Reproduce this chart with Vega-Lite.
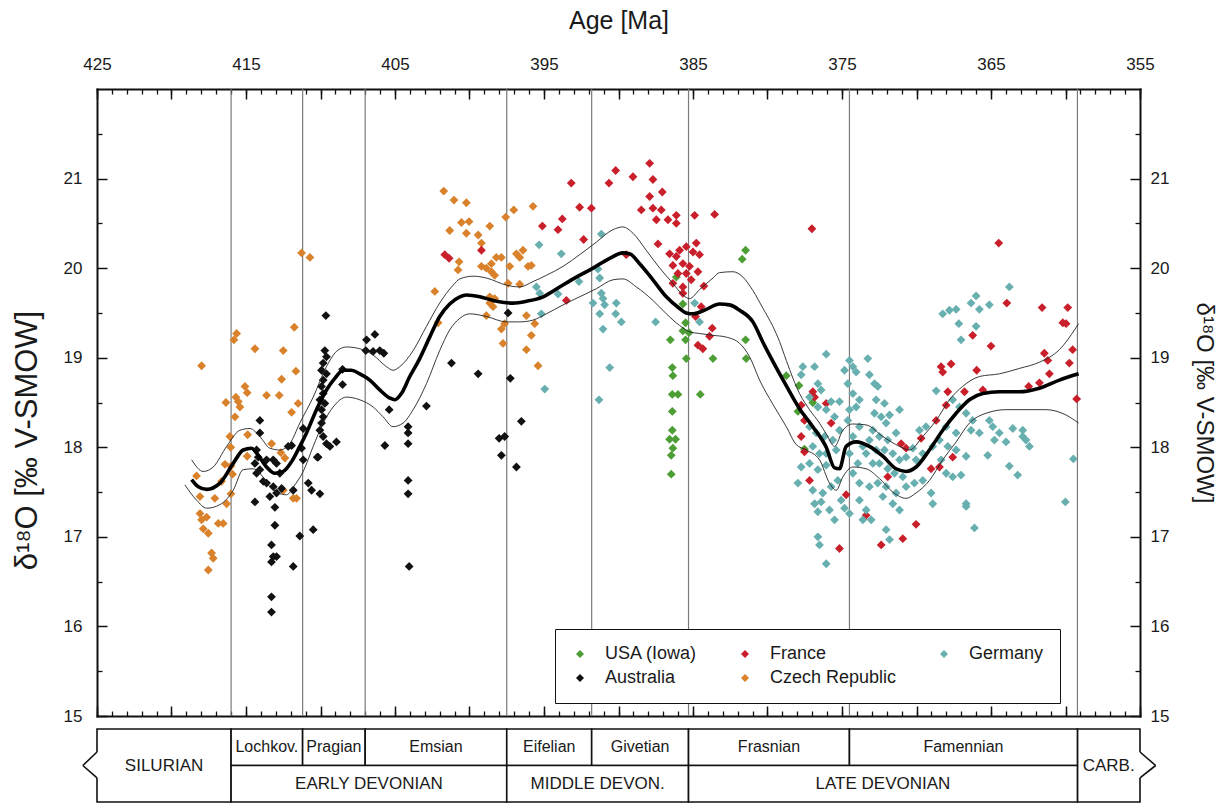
{
  "$schema": "https://vega.github.io/schema/vega-lite/v6.json",
  "width": 1043,
  "height": 627,
  "autosize": {"type": "none"},
  "padding": {"left": 97, "top": 89, "right": 88, "bottom": 87},
  "background": "white",
  "config": {
    "font": "Liberation Sans",
    "view": {"stroke": null},
    "axis": {"grid": false, "labelColor": "#1a1a1a", "titleColor": "#1a1a1a", "tickColor": "#111", "domainColor": "#111", "labelFontSize": 17, "titleFontSize": 24, "titleFontWeight": "normal", "labelOverlap": false, "labelFlush": false}
  },
  "datasets": {
    "boundaries": [{"age": 416}, {"age": 411.2}, {"age": 407}, {"age": 397.5}, {"age": 391.8}, {"age": 385.3}, {"age": 374.5}, {"age": 359.2}],
    "units": [
      {"name": "SILURIAN", "start": 425, "end": 416, "rank": "period"},
      {"name": "Lochkov.", "start": 416, "end": 411.2, "rank": "stage"},
      {"name": "Pragian", "start": 411.2, "end": 407, "rank": "stage"},
      {"name": "Emsian", "start": 407, "end": 397.5, "rank": "stage"},
      {"name": "Eifelian", "start": 397.5, "end": 391.8, "rank": "stage"},
      {"name": "Givetian", "start": 391.8, "end": 385.3, "rank": "stage"},
      {"name": "Frasnian", "start": 385.3, "end": 374.5, "rank": "stage"},
      {"name": "Famennian", "start": 374.5, "end": 359.2, "rank": "stage"},
      {"name": "EARLY DEVONIAN", "start": 416, "end": 397.5, "rank": "series"},
      {"name": "MIDDLE DEVON.", "start": 397.5, "end": 385.3, "rank": "series"},
      {"name": "LATE DEVONIAN", "start": 385.3, "end": 359.2, "rank": "series"},
      {"name": "CARB.", "start": 359.2, "end": 355, "rank": "period"}
    ],
    "breaks": [
      {"edge": 425, "tip": 425.95},
      {"edge": 355, "tip": 353.95}
    ],
    "smooth": [
      {"age": 418.65, "d18O": 17.64, "band": "mean"}, {"age": 418.2, "d18O": 17.56, "band": "mean"}, {"age": 417.64, "d18O": 17.53, "band": "mean"}, {"age": 416.75, "d18O": 17.6, "band": "mean"}, {"age": 415.86, "d18O": 17.82, "band": "mean"}, {"age": 415.19, "d18O": 17.97, "band": "mean"}, {"age": 414.63, "d18O": 17.99, "band": "mean"}, {"age": 414.18, "d18O": 17.91, "band": "mean"}, {"age": 413.62, "d18O": 17.78, "band": "mean"}, {"age": 413.06, "d18O": 17.71, "band": "mean"}, {"age": 412.5, "d18O": 17.73, "band": "mean"}, {"age": 411.94, "d18O": 17.84, "band": "mean"}, {"age": 411.39, "d18O": 18.01, "band": "mean"}, {"age": 410.94, "d18O": 18.16, "band": "mean"}, {"age": 410.27, "d18O": 18.42, "band": "mean"}, {"age": 409.6, "d18O": 18.64, "band": "mean"}, {"age": 409.04, "d18O": 18.77, "band": "mean"}, {"age": 408.48, "d18O": 18.86, "band": "mean"}, {"age": 407.92, "d18O": 18.86, "band": "mean"}, {"age": 407.36, "d18O": 18.82, "band": "mean"}, {"age": 406.69, "d18O": 18.75, "band": "mean"}, {"age": 406.02, "d18O": 18.64, "band": "mean"}, {"age": 405.35, "d18O": 18.55, "band": "mean"}, {"age": 405.01, "d18O": 18.53, "band": "mean"}, {"age": 404.57, "d18O": 18.6, "band": "mean"}, {"age": 404.01, "d18O": 18.79, "band": "mean"}, {"age": 403.34, "d18O": 18.99, "band": "mean"}, {"age": 402.67, "d18O": 19.23, "band": "mean"}, {"age": 402.0, "d18O": 19.46, "band": "mean"}, {"age": 401.33, "d18O": 19.6, "band": "mean"}, {"age": 400.65, "d18O": 19.68, "band": "mean"}, {"age": 400.21, "d18O": 19.7, "band": "mean"}, {"age": 399.31, "d18O": 19.68, "band": "mean"}, {"age": 398.42, "d18O": 19.64, "band": "mean"}, {"age": 397.08, "d18O": 19.61, "band": "mean"}, {"age": 396.18, "d18O": 19.63, "band": "mean"}, {"age": 395.06, "d18O": 19.68, "band": "mean"}, {"age": 393.95, "d18O": 19.79, "band": "mean"}, {"age": 392.83, "d18O": 19.9, "band": "mean"}, {"age": 391.71, "d18O": 20.0, "band": "mean"}, {"age": 390.59, "d18O": 20.11, "band": "mean"}, {"age": 389.7, "d18O": 20.17, "band": "mean"}, {"age": 389.25, "d18O": 20.16, "band": "mean"}, {"age": 388.58, "d18O": 20.05, "band": "mean"}, {"age": 387.69, "d18O": 19.87, "band": "mean"}, {"age": 386.79, "d18O": 19.68, "band": "mean"}, {"age": 385.9, "d18O": 19.55, "band": "mean"}, {"age": 385.45, "d18O": 19.5, "band": "mean"}, {"age": 385.0, "d18O": 19.49, "band": "mean"}, {"age": 384.11, "d18O": 19.54, "band": "mean"}, {"age": 383.22, "d18O": 19.6, "band": "mean"}, {"age": 382.55, "d18O": 19.59, "band": "mean"}, {"age": 381.87, "d18O": 19.53, "band": "mean"}, {"age": 380.98, "d18O": 19.4, "band": "mean"}, {"age": 380.3, "d18O": 19.17, "band": "mean"}, {"age": 379.64, "d18O": 18.96, "band": "mean"}, {"age": 378.75, "d18O": 18.69, "band": "mean"}, {"age": 377.85, "d18O": 18.43, "band": "mean"}, {"age": 376.96, "d18O": 18.23, "band": "mean"}, {"age": 376.06, "d18O": 18.0, "band": "mean"}, {"age": 375.5, "d18O": 17.77, "band": "mean"}, {"age": 375.17, "d18O": 17.76, "band": "mean"}, {"age": 374.72, "d18O": 18.01, "band": "mean"}, {"age": 374.05, "d18O": 18.06, "band": "mean"}, {"age": 373.16, "d18O": 18.01, "band": "mean"}, {"age": 372.26, "d18O": 17.9, "band": "mean"}, {"age": 371.37, "d18O": 17.76, "band": "mean"}, {"age": 370.7, "d18O": 17.73, "band": "mean"}, {"age": 370.03, "d18O": 17.78, "band": "mean"}, {"age": 369.13, "d18O": 17.97, "band": "mean"}, {"age": 368.24, "d18O": 18.19, "band": "mean"}, {"age": 367.34, "d18O": 18.38, "band": "mean"}, {"age": 366.45, "d18O": 18.53, "band": "mean"}, {"age": 365.55, "d18O": 18.6, "band": "mean"}, {"age": 364.44, "d18O": 18.62, "band": "mean"}, {"age": 363.1, "d18O": 18.62, "band": "mean"}, {"age": 361.75, "d18O": 18.66, "band": "mean"}, {"age": 360.41, "d18O": 18.75, "band": "mean"}, {"age": 359.12, "d18O": 18.82, "band": "mean"},
      {"age": 418.65, "d18O": 17.86, "band": "upper"}, {"age": 417.87, "d18O": 17.73, "band": "upper"}, {"age": 417.2, "d18O": 17.78, "band": "upper"}, {"age": 416.3, "d18O": 18.01, "band": "upper"}, {"age": 415.41, "d18O": 18.19, "band": "upper"}, {"age": 414.74, "d18O": 18.21, "band": "upper"}, {"age": 414.07, "d18O": 18.12, "band": "upper"}, {"age": 413.4, "d18O": 17.99, "band": "upper"}, {"age": 412.73, "d18O": 17.97, "band": "upper"}, {"age": 412.06, "d18O": 18.04, "band": "upper"}, {"age": 411.39, "d18O": 18.27, "band": "upper"}, {"age": 410.49, "d18O": 18.56, "band": "upper"}, {"age": 409.6, "d18O": 18.9, "band": "upper"}, {"age": 408.93, "d18O": 19.07, "band": "upper"}, {"age": 408.26, "d18O": 19.12, "band": "upper"}, {"age": 407.36, "d18O": 19.1, "band": "upper"}, {"age": 406.47, "d18O": 19.03, "band": "upper"}, {"age": 405.57, "d18O": 18.9, "band": "upper"}, {"age": 405.13, "d18O": 18.86, "band": "upper"}, {"age": 404.68, "d18O": 18.9, "band": "upper"}, {"age": 403.78, "d18O": 19.08, "band": "upper"}, {"age": 402.89, "d18O": 19.35, "band": "upper"}, {"age": 402.0, "d18O": 19.61, "band": "upper"}, {"age": 401.1, "d18O": 19.81, "band": "upper"}, {"age": 400.65, "d18O": 19.88, "band": "upper"}, {"age": 399.76, "d18O": 19.91, "band": "upper"}, {"age": 398.87, "d18O": 19.89, "band": "upper"}, {"age": 397.52, "d18O": 19.81, "band": "upper"}, {"age": 396.63, "d18O": 19.79, "band": "upper"}, {"age": 395.74, "d18O": 19.85, "band": "upper"}, {"age": 394.84, "d18O": 19.92, "band": "upper"}, {"age": 393.72, "d18O": 20.02, "band": "upper"}, {"age": 392.61, "d18O": 20.15, "band": "upper"}, {"age": 391.49, "d18O": 20.29, "band": "upper"}, {"age": 390.37, "d18O": 20.43, "band": "upper"}, {"age": 389.7, "d18O": 20.46, "band": "upper"}, {"age": 389.03, "d18O": 20.39, "band": "upper"}, {"age": 388.14, "d18O": 20.2, "band": "upper"}, {"age": 387.23, "d18O": 20.0, "band": "upper"}, {"age": 386.35, "d18O": 19.83, "band": "upper"}, {"age": 385.68, "d18O": 19.7, "band": "upper"}, {"age": 385.23, "d18O": 19.66, "band": "upper"}, {"age": 384.56, "d18O": 19.76, "band": "upper"}, {"age": 383.66, "d18O": 19.89, "band": "upper"}, {"age": 383.22, "d18O": 19.95, "band": "upper"}, {"age": 382.32, "d18O": 19.96, "band": "upper"}, {"age": 381.65, "d18O": 19.9, "band": "upper"}, {"age": 380.98, "d18O": 19.75, "band": "upper"}, {"age": 380.3, "d18O": 19.55, "band": "upper"}, {"age": 379.64, "d18O": 19.35, "band": "upper"}, {"age": 379.19, "d18O": 19.18, "band": "upper"}, {"age": 378.74, "d18O": 18.97, "band": "upper"}, {"age": 377.85, "d18O": 18.6, "band": "upper"}, {"age": 377.18, "d18O": 18.42, "band": "upper"}, {"age": 376.51, "d18O": 18.27, "band": "upper"}, {"age": 376.06, "d18O": 18.15, "band": "upper"}, {"age": 375.5, "d18O": 18.01, "band": "upper"}, {"age": 374.94, "d18O": 18.19, "band": "upper"}, {"age": 374.27, "d18O": 18.26, "band": "upper"}, {"age": 373.38, "d18O": 18.25, "band": "upper"}, {"age": 372.26, "d18O": 18.12, "band": "upper"}, {"age": 371.14, "d18O": 18.01, "band": "upper"}, {"age": 370.47, "d18O": 17.97, "band": "upper"}, {"age": 369.58, "d18O": 18.12, "band": "upper"}, {"age": 368.68, "d18O": 18.3, "band": "upper"}, {"age": 367.79, "d18O": 18.53, "band": "upper"}, {"age": 366.9, "d18O": 18.68, "band": "upper"}, {"age": 365.78, "d18O": 18.79, "band": "upper"}, {"age": 364.44, "d18O": 18.82, "band": "upper"}, {"age": 363.1, "d18O": 18.88, "band": "upper"}, {"age": 361.75, "d18O": 18.95, "band": "upper"}, {"age": 360.41, "d18O": 19.09, "band": "upper"}, {"age": 359.12, "d18O": 19.38, "band": "upper"},
      {"age": 419.1, "d18O": 17.58, "band": "lower"}, {"age": 418.32, "d18O": 17.41, "band": "lower"}, {"age": 417.64, "d18O": 17.32, "band": "lower"}, {"age": 416.75, "d18O": 17.36, "band": "lower"}, {"age": 415.86, "d18O": 17.52, "band": "lower"}, {"age": 415.19, "d18O": 17.75, "band": "lower"}, {"age": 414.52, "d18O": 17.76, "band": "lower"}, {"age": 414.07, "d18O": 17.71, "band": "lower"}, {"age": 413.4, "d18O": 17.56, "band": "lower"}, {"age": 412.84, "d18O": 17.49, "band": "lower"}, {"age": 412.28, "d18O": 17.47, "band": "lower"}, {"age": 411.72, "d18O": 17.58, "band": "lower"}, {"age": 411.16, "d18O": 17.73, "band": "lower"}, {"age": 410.49, "d18O": 18.01, "band": "lower"}, {"age": 409.82, "d18O": 18.27, "band": "lower"}, {"age": 409.15, "d18O": 18.45, "band": "lower"}, {"age": 408.26, "d18O": 18.56, "band": "lower"}, {"age": 407.36, "d18O": 18.53, "band": "lower"}, {"age": 406.47, "d18O": 18.45, "band": "lower"}, {"age": 405.8, "d18O": 18.34, "band": "lower"}, {"age": 405.13, "d18O": 18.23, "band": "lower"}, {"age": 404.46, "d18O": 18.27, "band": "lower"}, {"age": 403.78, "d18O": 18.42, "band": "lower"}, {"age": 402.89, "d18O": 18.71, "band": "lower"}, {"age": 402.0, "d18O": 19.08, "band": "lower"}, {"age": 401.33, "d18O": 19.31, "band": "lower"}, {"age": 400.65, "d18O": 19.44, "band": "lower"}, {"age": 399.98, "d18O": 19.49, "band": "lower"}, {"age": 398.87, "d18O": 19.46, "band": "lower"}, {"age": 397.52, "d18O": 19.4, "band": "lower"}, {"age": 396.63, "d18O": 19.4, "band": "lower"}, {"age": 395.74, "d18O": 19.42, "band": "lower"}, {"age": 394.84, "d18O": 19.49, "band": "lower"}, {"age": 393.72, "d18O": 19.59, "band": "lower"}, {"age": 392.61, "d18O": 19.68, "band": "lower"}, {"age": 391.49, "d18O": 19.77, "band": "lower"}, {"age": 390.37, "d18O": 19.87, "band": "lower"}, {"age": 389.7, "d18O": 19.88, "band": "lower"}, {"age": 388.8, "d18O": 19.79, "band": "lower"}, {"age": 387.69, "d18O": 19.64, "band": "lower"}, {"age": 386.79, "d18O": 19.49, "band": "lower"}, {"age": 385.9, "d18O": 19.36, "band": "lower"}, {"age": 385.23, "d18O": 19.29, "band": "lower"}, {"age": 384.56, "d18O": 19.27, "band": "lower"}, {"age": 383.66, "d18O": 19.25, "band": "lower"}, {"age": 382.77, "d18O": 19.23, "band": "lower"}, {"age": 381.87, "d18O": 19.16, "band": "lower"}, {"age": 381.2, "d18O": 19.01, "band": "lower"}, {"age": 380.53, "d18O": 18.75, "band": "lower"}, {"age": 379.64, "d18O": 18.48, "band": "lower"}, {"age": 378.74, "d18O": 18.23, "band": "lower"}, {"age": 378.07, "d18O": 18.03, "band": "lower"}, {"age": 377.4, "d18O": 17.97, "band": "lower"}, {"age": 376.51, "d18O": 17.86, "band": "lower"}, {"age": 375.84, "d18O": 17.6, "band": "lower"}, {"age": 375.39, "d18O": 17.52, "band": "lower"}, {"age": 374.94, "d18O": 17.67, "band": "lower"}, {"age": 374.27, "d18O": 17.78, "band": "lower"}, {"age": 373.38, "d18O": 17.76, "band": "lower"}, {"age": 372.48, "d18O": 17.65, "band": "lower"}, {"age": 371.59, "d18O": 17.5, "band": "lower"}, {"age": 370.7, "d18O": 17.43, "band": "lower"}, {"age": 370.03, "d18O": 17.49, "band": "lower"}, {"age": 369.13, "d18O": 17.63, "band": "lower"}, {"age": 368.24, "d18O": 17.86, "band": "lower"}, {"age": 367.34, "d18O": 18.06, "band": "lower"}, {"age": 366.45, "d18O": 18.27, "band": "lower"}, {"age": 365.33, "d18O": 18.38, "band": "lower"}, {"age": 363.99, "d18O": 18.42, "band": "lower"}, {"age": 362.65, "d18O": 18.42, "band": "lower"}, {"age": 361.31, "d18O": 18.42, "band": "lower"}, {"age": 359.96, "d18O": 18.36, "band": "lower"}, {"age": 359.12, "d18O": 18.27, "band": "lower"}
    ],
    "samples": [
      {"age": 417.98, "d18O": 18.91, "region": "Czech Republic"}, {"age": 415.63, "d18O": 19.27, "region": "Czech Republic"}, {"age": 415.81, "d18O": 19.2, "region": "Czech Republic"}, {"age": 414.4, "d18O": 19.1, "region": "Czech Republic"}, {"age": 411.76, "d18O": 19.34, "region": "Czech Republic"}, {"age": 412.5, "d18O": 19.08, "region": "Czech Republic"}, {"age": 411.65, "d18O": 18.85, "region": "Czech Republic"}, {"age": 412.61, "d18O": 18.76, "region": "Czech Republic"}, {"age": 415.07, "d18O": 18.68, "region": "Czech Republic"}, {"age": 414.92, "d18O": 18.61, "region": "Czech Republic"}, {"age": 415.68, "d18O": 18.56, "region": "Czech Republic"}, {"age": 415.52, "d18O": 18.51, "region": "Czech Republic"}, {"age": 416.35, "d18O": 18.5, "region": "Czech Republic"}, {"age": 415.41, "d18O": 18.45, "region": "Czech Republic"}, {"age": 415.74, "d18O": 18.34, "region": "Czech Republic"}, {"age": 413.62, "d18O": 18.58, "region": "Czech Republic"}, {"age": 412.77, "d18O": 18.58, "region": "Czech Republic"}, {"age": 411.27, "d18O": 20.17, "region": "Czech Republic"}, {"age": 410.71, "d18O": 20.12, "region": "Czech Republic"}, {"age": 411.5, "d18O": 18.49, "region": "Czech Republic"}, {"age": 411.94, "d18O": 18.39, "region": "Czech Republic"}, {"age": 416.08, "d18O": 18.12, "region": "Czech Republic"}, {"age": 414.89, "d18O": 18.14, "region": "Czech Republic"}, {"age": 416.03, "d18O": 18.0, "region": "Czech Republic"}, {"age": 413.28, "d18O": 18.04, "region": "Czech Republic"}, {"age": 412.66, "d18O": 17.94, "region": "Czech Republic"}, {"age": 412.39, "d18O": 17.88, "region": "Czech Republic"}, {"age": 414.92, "d18O": 17.9, "region": "Czech Republic"}, {"age": 416.41, "d18O": 17.81, "region": "Czech Republic"}, {"age": 416.01, "d18O": 17.79, "region": "Czech Republic"}, {"age": 415.9, "d18O": 17.7, "region": "Czech Republic"}, {"age": 418.32, "d18O": 17.68, "region": "Czech Republic"}, {"age": 416.64, "d18O": 17.62, "region": "Czech Republic"}, {"age": 417.09, "d18O": 17.43, "region": "Czech Republic"}, {"age": 418.09, "d18O": 17.45, "region": "Czech Republic"}, {"age": 416.01, "d18O": 17.48, "region": "Czech Republic"}, {"age": 416.3, "d18O": 17.37, "region": "Czech Republic"}, {"age": 412.5, "d18O": 17.52, "region": "Czech Republic"}, {"age": 411.83, "d18O": 17.43, "region": "Czech Republic"}, {"age": 417.98, "d18O": 17.19, "region": "Czech Republic"}, {"age": 417.87, "d18O": 17.09, "region": "Czech Republic"}, {"age": 416.86, "d18O": 17.15, "region": "Czech Republic"}, {"age": 416.53, "d18O": 17.15, "region": "Czech Republic"}, {"age": 417.53, "d18O": 17.04, "region": "Czech Republic"}, {"age": 417.31, "d18O": 16.82, "region": "Czech Republic"}, {"age": 417.2, "d18O": 16.76, "region": "Czech Republic"}, {"age": 417.53, "d18O": 16.63, "region": "Czech Republic"}, {"age": 418.09, "d18O": 17.26, "region": "Czech Republic"}, {"age": 417.64, "d18O": 17.22, "region": "Czech Republic"}, {"age": 411.61, "d18O": 17.43, "region": "Czech Republic"},
      {"age": 401.73, "d18O": 20.86, "region": "Czech Republic"}, {"age": 401.04, "d18O": 20.76, "region": "Czech Republic"}, {"age": 400.21, "d18O": 20.73, "region": "Czech Republic"}, {"age": 401.33, "d18O": 20.42, "region": "Czech Republic"}, {"age": 400.54, "d18O": 20.51, "region": "Czech Republic"}, {"age": 400.03, "d18O": 20.52, "region": "Czech Republic"}, {"age": 400.21, "d18O": 20.39, "region": "Czech Republic"}, {"age": 399.42, "d18O": 20.37, "region": "Czech Republic"}, {"age": 399.2, "d18O": 20.28, "region": "Czech Republic"}, {"age": 398.64, "d18O": 20.47, "region": "Czech Republic"}, {"age": 397.57, "d18O": 20.57, "region": "Czech Republic"}, {"age": 397.03, "d18O": 20.65, "region": "Czech Republic"}, {"age": 395.74, "d18O": 20.69, "region": "Czech Republic"}, {"age": 398.2, "d18O": 20.12, "region": "Czech Republic"}, {"age": 397.86, "d18O": 20.12, "region": "Czech Republic"}, {"age": 398.53, "d18O": 20.05, "region": "Czech Republic"}, {"age": 397.3, "d18O": 20.02, "region": "Czech Republic"}, {"age": 399.2, "d18O": 20.02, "region": "Czech Republic"}, {"age": 398.87, "d18O": 20.0, "region": "Czech Republic"}, {"age": 398.53, "d18O": 19.96, "region": "Czech Republic"}, {"age": 398.31, "d18O": 19.92, "region": "Czech Republic"}, {"age": 396.85, "d18O": 20.16, "region": "Czech Republic"}, {"age": 396.41, "d18O": 20.2, "region": "Czech Republic"}, {"age": 396.63, "d18O": 20.12, "region": "Czech Republic"}, {"age": 396.07, "d18O": 20.02, "region": "Czech Republic"}, {"age": 395.85, "d18O": 20.03, "region": "Czech Republic"}, {"age": 400.7, "d18O": 20.07, "region": "Czech Republic"}, {"age": 400.77, "d18O": 19.98, "region": "Czech Republic"}, {"age": 402.33, "d18O": 19.74, "region": "Czech Republic"}, {"age": 398.64, "d18O": 19.68, "region": "Czech Republic"}, {"age": 398.31, "d18O": 19.66, "region": "Czech Republic"}, {"age": 398.64, "d18O": 19.61, "region": "Czech Republic"}, {"age": 398.42, "d18O": 19.57, "region": "Czech Republic"}, {"age": 397.41, "d18O": 19.83, "region": "Czech Republic"}, {"age": 396.63, "d18O": 19.82, "region": "Czech Republic"}, {"age": 398.87, "d18O": 19.47, "region": "Czech Republic"}, {"age": 396.18, "d18O": 19.47, "region": "Czech Republic"}, {"age": 395.62, "d18O": 19.38, "region": "Czech Republic"}, {"age": 397.64, "d18O": 19.38, "region": "Czech Republic"}, {"age": 397.86, "d18O": 19.32, "region": "Czech Republic"}, {"age": 395.85, "d18O": 19.25, "region": "Czech Republic"}, {"age": 397.75, "d18O": 19.16, "region": "Czech Republic"}, {"age": 396.18, "d18O": 19.09, "region": "Czech Republic"}, {"age": 395.4, "d18O": 18.91, "region": "Czech Republic"}, {"age": 402.11, "d18O": 19.39, "region": "Czech Republic"},
      {"age": 409.64, "d18O": 19.47, "region": "Australia"}, {"age": 406.91, "d18O": 19.2, "region": "Australia"}, {"age": 406.35, "d18O": 19.26, "region": "Australia"}, {"age": 406.96, "d18O": 19.08, "region": "Australia"}, {"age": 406.47, "d18O": 19.07, "region": "Australia"}, {"age": 406.02, "d18O": 19.08, "region": "Australia"}, {"age": 405.75, "d18O": 19.05, "region": "Australia"}, {"age": 409.71, "d18O": 19.08, "region": "Australia"}, {"age": 409.6, "d18O": 19.01, "region": "Australia"}, {"age": 409.82, "d18O": 18.94, "region": "Australia"}, {"age": 409.93, "d18O": 18.86, "region": "Australia"}, {"age": 409.6, "d18O": 18.82, "region": "Australia"}, {"age": 409.82, "d18O": 18.75, "region": "Australia"}, {"age": 409.93, "d18O": 18.68, "region": "Australia"}, {"age": 409.82, "d18O": 18.6, "region": "Australia"}, {"age": 410.04, "d18O": 18.53, "region": "Australia"}, {"age": 409.71, "d18O": 18.49, "region": "Australia"}, {"age": 409.93, "d18O": 18.42, "region": "Australia"}, {"age": 409.82, "d18O": 18.34, "region": "Australia"}, {"age": 409.93, "d18O": 18.27, "region": "Australia"}, {"age": 410.04, "d18O": 18.19, "region": "Australia"}, {"age": 409.82, "d18O": 18.12, "region": "Australia"}, {"age": 409.6, "d18O": 18.04, "region": "Australia"}, {"age": 409.37, "d18O": 18.01, "region": "Australia"}, {"age": 408.93, "d18O": 18.06, "region": "Australia"}, {"age": 410.16, "d18O": 17.89, "region": "Australia"}, {"age": 408.52, "d18O": 18.87, "region": "Australia"}, {"age": 408.52, "d18O": 18.7, "region": "Australia"}, {"age": 405.39, "d18O": 18.42, "region": "Australia"}, {"age": 402.89, "d18O": 18.46, "region": "Australia"}, {"age": 401.21, "d18O": 18.94, "region": "Australia"}, {"age": 404.12, "d18O": 18.23, "region": "Australia"}, {"age": 404.12, "d18O": 18.16, "region": "Australia"}, {"age": 404.12, "d18O": 18.04, "region": "Australia"}, {"age": 405.68, "d18O": 18.02, "region": "Australia"}, {"age": 404.12, "d18O": 17.63, "region": "Australia"}, {"age": 404.12, "d18O": 17.48, "region": "Australia"}, {"age": 404.05, "d18O": 16.67, "region": "Australia"}, {"age": 414.07, "d18O": 18.3, "region": "Australia"}, {"age": 414.07, "d18O": 18.16, "region": "Australia"}, {"age": 414.29, "d18O": 17.97, "region": "Australia"}, {"age": 414.18, "d18O": 17.89, "region": "Australia"}, {"age": 414.4, "d18O": 17.82, "region": "Australia"}, {"age": 414.07, "d18O": 17.75, "region": "Australia"}, {"age": 414.29, "d18O": 17.71, "region": "Australia"}, {"age": 413.62, "d18O": 17.86, "region": "Australia"}, {"age": 413.17, "d18O": 17.86, "region": "Australia"}, {"age": 412.95, "d18O": 17.82, "region": "Australia"}, {"age": 412.73, "d18O": 17.71, "region": "Australia"}, {"age": 412.17, "d18O": 18.01, "region": "Australia"}, {"age": 411.94, "d18O": 18.02, "region": "Australia"}, {"age": 411.16, "d18O": 18.21, "region": "Australia"}, {"age": 411.27, "d18O": 17.99, "region": "Australia"}, {"age": 411.16, "d18O": 17.86, "region": "Australia"}, {"age": 413.62, "d18O": 17.6, "region": "Australia"}, {"age": 413.17, "d18O": 17.56, "region": "Australia"}, {"age": 412.95, "d18O": 17.49, "region": "Australia"}, {"age": 413.4, "d18O": 17.45, "region": "Australia"}, {"age": 413.06, "d18O": 17.33, "region": "Australia"}, {"age": 413.06, "d18O": 17.13, "region": "Australia"}, {"age": 413.29, "d18O": 16.91, "region": "Australia"}, {"age": 413.17, "d18O": 16.78, "region": "Australia"}, {"age": 413.29, "d18O": 16.72, "region": "Australia"}, {"age": 412.95, "d18O": 16.78, "region": "Australia"}, {"age": 413.29, "d18O": 16.33, "region": "Australia"}, {"age": 413.29, "d18O": 16.16, "region": "Australia"}, {"age": 414.4, "d18O": 17.39, "region": "Australia"}, {"age": 411.83, "d18O": 16.67, "region": "Australia"}, {"age": 411.39, "d18O": 17.01, "region": "Australia"}, {"age": 410.49, "d18O": 17.08, "region": "Australia"}, {"age": 410.82, "d18O": 17.6, "region": "Australia"}, {"age": 410.6, "d18O": 17.52, "region": "Australia"}, {"age": 410.04, "d18O": 17.48, "region": "Australia"}, {"age": 410.22, "d18O": 17.89, "region": "Australia"}, {"age": 411.83, "d18O": 17.52, "region": "Australia"}, {"age": 412.61, "d18O": 17.54, "region": "Australia"}, {"age": 413.84, "d18O": 17.62, "region": "Australia"},
      {"age": 397.41, "d18O": 19.5, "region": "Australia"}, {"age": 399.42, "d18O": 18.82, "region": "Australia"}, {"age": 397.26, "d18O": 18.77, "region": "Australia"}, {"age": 396.52, "d18O": 18.29, "region": "Australia"}, {"age": 398.01, "d18O": 18.1, "region": "Australia"}, {"age": 397.64, "d18O": 18.12, "region": "Australia"}, {"age": 397.86, "d18O": 17.91, "region": "Australia"}, {"age": 396.85, "d18O": 17.78, "region": "Australia"},
      {"age": 386.12, "d18O": 19.9, "region": "USA (Iowa)"}, {"age": 385.68, "d18O": 19.6, "region": "USA (Iowa)"}, {"age": 385.5, "d18O": 19.39, "region": "USA (Iowa)"}, {"age": 385.68, "d18O": 19.3, "region": "USA (Iowa)"}, {"age": 385.27, "d18O": 19.28, "region": "USA (Iowa)"}, {"age": 385.5, "d18O": 19.2, "region": "USA (Iowa)"}, {"age": 386.52, "d18O": 19.2, "region": "USA (Iowa)"}, {"age": 385.45, "d18O": 18.99, "region": "USA (Iowa)"}, {"age": 386.39, "d18O": 18.89, "region": "USA (Iowa)"}, {"age": 386.35, "d18O": 18.8, "region": "USA (Iowa)"}, {"age": 386.39, "d18O": 18.59, "region": "USA (Iowa)"}, {"age": 386.01, "d18O": 18.59, "region": "USA (Iowa)"}, {"age": 384.51, "d18O": 18.59, "region": "USA (Iowa)"}, {"age": 386.39, "d18O": 18.4, "region": "USA (Iowa)"}, {"age": 386.39, "d18O": 18.19, "region": "USA (Iowa)"}, {"age": 386.17, "d18O": 18.09, "region": "USA (Iowa)"}, {"age": 386.57, "d18O": 18.09, "region": "USA (Iowa)"}, {"age": 386.35, "d18O": 17.99, "region": "USA (Iowa)"}, {"age": 386.46, "d18O": 17.91, "region": "USA (Iowa)"}, {"age": 386.46, "d18O": 17.7, "region": "USA (Iowa)"}, {"age": 383.66, "d18O": 18.99, "region": "USA (Iowa)"}, {"age": 381.47, "d18O": 20.2, "region": "USA (Iowa)"}, {"age": 381.7, "d18O": 20.1, "region": "USA (Iowa)"}, {"age": 381.47, "d18O": 19.2, "region": "USA (Iowa)"}, {"age": 381.43, "d18O": 18.99, "region": "USA (Iowa)"}, {"age": 378.74, "d18O": 18.8, "region": "USA (Iowa)"}, {"age": 377.89, "d18O": 18.69, "region": "USA (Iowa)"}, {"age": 376.96, "d18O": 18.5, "region": "USA (Iowa)"}, {"age": 377.96, "d18O": 18.4, "region": "USA (Iowa)"}, {"age": 377.52, "d18O": 17.98, "region": "USA (Iowa)"},
      {"age": 401.66, "d18O": 20.15, "region": "France"}, {"age": 401.37, "d18O": 20.11, "region": "France"}, {"age": 399.2, "d18O": 20.2, "region": "France"}, {"age": 393.17, "d18O": 20.95, "region": "France"}, {"age": 392.61, "d18O": 20.68, "region": "France"}, {"age": 391.82, "d18O": 20.67, "region": "France"}, {"age": 390.64, "d18O": 20.95, "region": "France"}, {"age": 390.19, "d18O": 21.09, "region": "France"}, {"age": 389.03, "d18O": 21.02, "region": "France"}, {"age": 387.91, "d18O": 21.17, "region": "France"}, {"age": 387.69, "d18O": 20.99, "region": "France"}, {"age": 387.06, "d18O": 20.85, "region": "France"}, {"age": 387.91, "d18O": 20.8, "region": "France"}, {"age": 388.47, "d18O": 20.65, "region": "France"}, {"age": 387.69, "d18O": 20.67, "region": "France"}, {"age": 387.13, "d18O": 20.65, "region": "France"}, {"age": 387.46, "d18O": 20.54, "region": "France"}, {"age": 386.68, "d18O": 20.54, "region": "France"}, {"age": 386.12, "d18O": 20.59, "region": "France"}, {"age": 386.12, "d18O": 20.5, "region": "France"}, {"age": 384.89, "d18O": 20.59, "region": "France"}, {"age": 383.55, "d18O": 20.6, "region": "France"}, {"age": 395.11, "d18O": 20.47, "region": "France"}, {"age": 393.77, "d18O": 20.55, "region": "France"}, {"age": 394.06, "d18O": 20.43, "region": "France"}, {"age": 392.34, "d18O": 20.32, "region": "France"}, {"age": 387.35, "d18O": 20.27, "region": "France"}, {"age": 393.5, "d18O": 19.64, "region": "France"}, {"age": 389.48, "d18O": 20.15, "region": "France"}, {"age": 386.57, "d18O": 20.16, "region": "France"}, {"age": 386.12, "d18O": 20.13, "region": "France"}, {"age": 386.35, "d18O": 20.03, "region": "France"}, {"age": 385.9, "d18O": 20.2, "region": "France"}, {"age": 385.45, "d18O": 20.24, "region": "France"}, {"age": 385.0, "d18O": 20.18, "region": "France"}, {"age": 384.78, "d18O": 20.28, "region": "France"}, {"age": 384.56, "d18O": 20.15, "region": "France"}, {"age": 385.68, "d18O": 20.05, "region": "France"}, {"age": 385.23, "d18O": 20.02, "region": "France"}, {"age": 386.01, "d18O": 19.94, "region": "France"}, {"age": 385.45, "d18O": 19.94, "region": "France"}, {"age": 384.67, "d18O": 19.96, "region": "France"}, {"age": 386.35, "d18O": 19.83, "region": "France"}, {"age": 385.68, "d18O": 19.79, "region": "France"}, {"age": 385.12, "d18O": 19.87, "region": "France"}, {"age": 384.27, "d18O": 19.8, "region": "France"}, {"age": 385.68, "d18O": 19.72, "region": "France"}, {"age": 384.45, "d18O": 19.57, "region": "France"}, {"age": 384.83, "d18O": 19.46, "region": "France"}, {"age": 383.71, "d18O": 19.33, "region": "France"}, {"age": 383.89, "d18O": 19.24, "region": "France"}, {"age": 384.34, "d18O": 19.1, "region": "France"}, {"age": 384.67, "d18O": 19.14, "region": "France"},
      {"age": 377.02, "d18O": 20.44, "region": "France"}, {"age": 364.48, "d18O": 20.28, "region": "France"}, {"age": 363.94, "d18O": 19.61, "region": "France"}, {"age": 366.23, "d18O": 19.25, "region": "France"}, {"age": 365.0, "d18O": 19.13, "region": "France"}, {"age": 368.35, "d18O": 18.9, "region": "France"}, {"age": 368.24, "d18O": 18.84, "region": "France"}, {"age": 367.68, "d18O": 18.93, "region": "France"}, {"age": 365.96, "d18O": 18.86, "region": "France"}, {"age": 361.57, "d18O": 19.56, "region": "France"}, {"age": 359.85, "d18O": 19.56, "region": "France"}, {"age": 360.18, "d18O": 19.39, "region": "France"}, {"age": 359.96, "d18O": 19.38, "region": "France"}, {"age": 361.42, "d18O": 19.05, "region": "France"}, {"age": 361.19, "d18O": 18.97, "region": "France"}, {"age": 361.08, "d18O": 18.82, "region": "France"}, {"age": 359.74, "d18O": 18.94, "region": "France"}, {"age": 359.52, "d18O": 19.09, "region": "France"}, {"age": 359.25, "d18O": 18.54, "region": "France"}, {"age": 361.75, "d18O": 18.72, "region": "France"}, {"age": 362.47, "d18O": 18.68, "region": "France"}, {"age": 376.96, "d18O": 18.62, "region": "France"}, {"age": 376.84, "d18O": 18.56, "region": "France"}, {"age": 376.06, "d18O": 18.49, "region": "France"}, {"age": 377.74, "d18O": 18.47, "region": "France"}, {"age": 377.52, "d18O": 18.3, "region": "France"}, {"age": 375.73, "d18O": 18.27, "region": "France"}, {"age": 377.74, "d18O": 18.12, "region": "France"}, {"age": 377.52, "d18O": 17.95, "region": "France"}, {"age": 367.9, "d18O": 18.62, "region": "France"}, {"age": 366.78, "d18O": 18.62, "region": "France"}, {"age": 365.55, "d18O": 18.64, "region": "France"}, {"age": 368.01, "d18O": 18.47, "region": "France"}, {"age": 368.68, "d18O": 18.3, "region": "France"}, {"age": 371.03, "d18O": 18.04, "region": "France"}, {"age": 370.7, "d18O": 17.99, "region": "France"}, {"age": 369.69, "d18O": 18.1, "region": "France"}, {"age": 367.57, "d18O": 17.89, "region": "France"}, {"age": 369.02, "d18O": 17.76, "region": "France"}, {"age": 368.46, "d18O": 17.78, "region": "France"}, {"age": 377.18, "d18O": 17.63, "region": "France"}, {"age": 374.72, "d18O": 17.47, "region": "France"}, {"age": 373.38, "d18O": 17.24, "region": "France"}, {"age": 371.93, "d18O": 17.67, "region": "France"}, {"age": 370.03, "d18O": 17.14, "region": "France"}, {"age": 370.92, "d18O": 16.98, "region": "France"}, {"age": 372.37, "d18O": 16.91, "region": "France"}, {"age": 375.17, "d18O": 16.87, "region": "France"},
      {"age": 395.33, "d18O": 20.26, "region": "Germany"}, {"age": 393.84, "d18O": 20.16, "region": "Germany"}, {"age": 391.15, "d18O": 20.38, "region": "Germany"}, {"age": 395.51, "d18O": 19.79, "region": "Germany"}, {"age": 395.29, "d18O": 19.72, "region": "Germany"}, {"age": 394.06, "d18O": 19.71, "region": "Germany"}, {"age": 392.65, "d18O": 19.85, "region": "Germany"}, {"age": 391.38, "d18O": 19.99, "region": "Germany"}, {"age": 391.26, "d18O": 19.89, "region": "Germany"}, {"age": 391.71, "d18O": 19.61, "region": "Germany"}, {"age": 391.15, "d18O": 19.72, "region": "Germany"}, {"age": 391.04, "d18O": 19.66, "region": "Germany"}, {"age": 391.26, "d18O": 19.49, "region": "Germany"}, {"age": 390.93, "d18O": 19.59, "region": "Germany"}, {"age": 390.15, "d18O": 19.61, "region": "Germany"}, {"age": 390.19, "d18O": 19.49, "region": "Germany"}, {"age": 389.81, "d18O": 19.4, "region": "Germany"}, {"age": 391.04, "d18O": 19.32, "region": "Germany"}, {"age": 387.51, "d18O": 19.4, "region": "Germany"}, {"age": 395.18, "d18O": 19.49, "region": "Germany"}, {"age": 390.59, "d18O": 18.89, "region": "Germany"}, {"age": 394.95, "d18O": 18.65, "region": "Germany"}, {"age": 391.31, "d18O": 18.53, "region": "Germany"}, {"age": 384.89, "d18O": 19.61, "region": "Germany"}, {"age": 384.56, "d18O": 19.4, "region": "Germany"},
      {"age": 376.06, "d18O": 19.04, "region": "Germany"}, {"age": 377.63, "d18O": 18.9, "region": "Germany"}, {"age": 376.84, "d18O": 18.9, "region": "Germany"}, {"age": 377.74, "d18O": 18.81, "region": "Germany"}, {"age": 376.62, "d18O": 18.71, "region": "Germany"}, {"age": 376.4, "d18O": 18.64, "region": "Germany"}, {"age": 377.18, "d18O": 18.56, "region": "Germany"}, {"age": 376.62, "d18O": 18.45, "region": "Germany"}, {"age": 376.06, "d18O": 18.42, "region": "Germany"}, {"age": 375.5, "d18O": 18.34, "region": "Germany"}, {"age": 375.73, "d18O": 18.51, "region": "Germany"}, {"age": 375.17, "d18O": 18.51, "region": "Germany"}, {"age": 377.18, "d18O": 18.23, "region": "Germany"}, {"age": 376.73, "d18O": 18.16, "region": "Germany"}, {"age": 376.17, "d18O": 18.12, "region": "Germany"}, {"age": 375.62, "d18O": 18.08, "region": "Germany"}, {"age": 375.17, "d18O": 18.19, "region": "Germany"}, {"age": 376.96, "d18O": 18.01, "region": "Germany"}, {"age": 376.51, "d18O": 17.93, "region": "Germany"}, {"age": 376.06, "d18O": 17.93, "region": "Germany"}, {"age": 375.39, "d18O": 17.97, "region": "Germany"}, {"age": 377.74, "d18O": 17.78, "region": "Germany"}, {"age": 377.18, "d18O": 17.82, "region": "Germany"}, {"age": 376.62, "d18O": 17.75, "region": "Germany"}, {"age": 376.06, "d18O": 17.8, "region": "Germany"}, {"age": 377.96, "d18O": 17.6, "region": "Germany"}, {"age": 376.96, "d18O": 17.52, "region": "Germany"}, {"age": 376.29, "d18O": 17.49, "region": "Germany"}, {"age": 375.73, "d18O": 17.56, "region": "Germany"}, {"age": 375.28, "d18O": 17.63, "region": "Germany"}, {"age": 376.84, "d18O": 17.37, "region": "Germany"}, {"age": 376.4, "d18O": 17.39, "region": "Germany"}, {"age": 375.84, "d18O": 17.3, "region": "Germany"}, {"age": 376.62, "d18O": 17.28, "region": "Germany"}, {"age": 375.06, "d18O": 17.41, "region": "Germany"}, {"age": 374.83, "d18O": 17.32, "region": "Germany"}, {"age": 375.5, "d18O": 17.19, "region": "Germany"}, {"age": 374.5, "d18O": 18.97, "region": "Germany"}, {"age": 374.27, "d18O": 18.9, "region": "Germany"}, {"age": 374.05, "d18O": 18.84, "region": "Germany"}, {"age": 374.83, "d18O": 18.86, "region": "Germany"}, {"age": 374.61, "d18O": 18.71, "region": "Germany"}, {"age": 374.27, "d18O": 18.6, "region": "Germany"}, {"age": 373.83, "d18O": 18.53, "region": "Germany"}, {"age": 374.5, "d18O": 18.42, "region": "Germany"}, {"age": 374.05, "d18O": 18.45, "region": "Germany"}, {"age": 374.61, "d18O": 18.3, "region": "Germany"}, {"age": 373.83, "d18O": 18.23, "region": "Germany"}, {"age": 374.27, "d18O": 18.12, "region": "Germany"}, {"age": 373.6, "d18O": 18.01, "region": "Germany"}, {"age": 374.5, "d18O": 17.93, "region": "Germany"}, {"age": 373.94, "d18O": 17.82, "region": "Germany"}, {"age": 373.38, "d18O": 17.93, "region": "Germany"}, {"age": 372.93, "d18O": 17.82, "region": "Germany"}, {"age": 374.27, "d18O": 17.71, "region": "Germany"}, {"age": 373.83, "d18O": 17.6, "region": "Germany"}, {"age": 373.16, "d18O": 17.56, "region": "Germany"}, {"age": 373.83, "d18O": 17.41, "region": "Germany"}, {"age": 373.38, "d18O": 17.3, "region": "Germany"}, {"age": 373.6, "d18O": 17.19, "region": "Germany"}, {"age": 373.04, "d18O": 17.19, "region": "Germany"}, {"age": 374.5, "d18O": 17.26, "region": "Germany"}, {"age": 372.04, "d18O": 17.08, "region": "Germany"}, {"age": 371.81, "d18O": 16.97, "region": "Germany"}, {"age": 376.62, "d18O": 17.0, "region": "Germany"}, {"age": 376.51, "d18O": 16.91, "region": "Germany"}, {"age": 376.06, "d18O": 16.7, "region": "Germany"}, {"age": 373.27, "d18O": 18.99, "region": "Germany"}, {"age": 373.16, "d18O": 18.81, "region": "Germany"}, {"age": 372.82, "d18O": 18.71, "region": "Germany"}, {"age": 372.6, "d18O": 18.68, "region": "Germany"}, {"age": 372.71, "d18O": 18.53, "region": "Germany"}, {"age": 372.15, "d18O": 18.49, "region": "Germany"}, {"age": 372.82, "d18O": 18.38, "region": "Germany"}, {"age": 372.37, "d18O": 18.34, "region": "Germany"}, {"age": 372.04, "d18O": 18.27, "region": "Germany"}, {"age": 371.81, "d18O": 18.36, "region": "Germany"}, {"age": 371.14, "d18O": 18.42, "region": "Germany"}, {"age": 372.93, "d18O": 18.19, "region": "Germany"}, {"age": 372.49, "d18O": 18.12, "region": "Germany"}, {"age": 371.93, "d18O": 18.08, "region": "Germany"}, {"age": 371.37, "d18O": 18.16, "region": "Germany"}, {"age": 373.16, "d18O": 18.08, "region": "Germany"}, {"age": 372.71, "d18O": 17.97, "region": "Germany"}, {"age": 372.15, "d18O": 17.97, "region": "Germany"}, {"age": 371.59, "d18O": 17.93, "region": "Germany"}, {"age": 371.14, "d18O": 17.86, "region": "Germany"}, {"age": 370.7, "d18O": 17.89, "region": "Germany"}, {"age": 372.49, "d18O": 17.82, "region": "Germany"}, {"age": 371.93, "d18O": 17.76, "region": "Germany"}, {"age": 371.48, "d18O": 17.71, "region": "Germany"}, {"age": 370.92, "d18O": 17.67, "region": "Germany"}, {"age": 372.6, "d18O": 17.6, "region": "Germany"}, {"age": 372.04, "d18O": 17.56, "region": "Germany"}, {"age": 371.37, "d18O": 17.49, "region": "Germany"}, {"age": 370.7, "d18O": 17.56, "region": "Germany"}, {"age": 372.26, "d18O": 17.45, "region": "Germany"}, {"age": 371.59, "d18O": 17.37, "region": "Germany"}, {"age": 371.14, "d18O": 17.3, "region": "Germany"}, {"age": 370.14, "d18O": 17.6, "region": "Germany"}, {"age": 369.58, "d18O": 17.63, "region": "Germany"}, {"age": 369.02, "d18O": 17.49, "region": "Germany"}, {"age": 368.91, "d18O": 17.37, "region": "Germany"}, {"age": 370.03, "d18O": 17.86, "region": "Germany"}, {"age": 369.58, "d18O": 17.93, "region": "Germany"}, {"age": 370.25, "d18O": 17.99, "region": "Germany"}, {"age": 369.8, "d18O": 18.19, "region": "Germany"}, {"age": 369.36, "d18O": 18.23, "region": "Germany"}, {"age": 368.68, "d18O": 18.63, "region": "Germany"}, {"age": 368.91, "d18O": 18.01, "region": "Germany"}, {"age": 368.24, "d18O": 19.49, "region": "Germany"}, {"age": 367.79, "d18O": 19.53, "region": "Germany"}, {"age": 367.34, "d18O": 19.54, "region": "Germany"}, {"age": 366.0, "d18O": 19.69, "region": "Germany"}, {"age": 366.34, "d18O": 19.61, "region": "Germany"}, {"age": 365.78, "d18O": 19.54, "region": "Germany"}, {"age": 365.11, "d18O": 19.59, "region": "Germany"}, {"age": 363.77, "d18O": 19.79, "region": "Germany"}, {"age": 367.16, "d18O": 19.38, "region": "Germany"}, {"age": 366.0, "d18O": 19.35, "region": "Germany"}, {"age": 367.01, "d18O": 19.2, "region": "Germany"}, {"age": 367.57, "d18O": 18.53, "region": "Germany"}, {"age": 367.12, "d18O": 18.45, "region": "Germany"}, {"age": 366.67, "d18O": 18.38, "region": "Germany"}, {"age": 366.23, "d18O": 18.3, "region": "Germany"}, {"age": 368.01, "d18O": 18.23, "region": "Germany"}, {"age": 367.34, "d18O": 18.16, "region": "Germany"}, {"age": 368.46, "d18O": 18.08, "region": "Germany"}, {"age": 367.9, "d18O": 18.01, "region": "Germany"}, {"age": 367.34, "d18O": 17.97, "region": "Germany"}, {"age": 366.67, "d18O": 17.9, "region": "Germany"}, {"age": 368.35, "d18O": 17.86, "region": "Germany"}, {"age": 368.01, "d18O": 17.71, "region": "Germany"}, {"age": 367.57, "d18O": 17.67, "region": "Germany"}, {"age": 367.01, "d18O": 17.69, "region": "Germany"}, {"age": 366.34, "d18O": 18.19, "region": "Germany"}, {"age": 365.78, "d18O": 18.16, "region": "Germany"}, {"age": 365.11, "d18O": 18.3, "region": "Germany"}, {"age": 364.88, "d18O": 18.23, "region": "Germany"}, {"age": 364.44, "d18O": 18.16, "region": "Germany"}, {"age": 364.77, "d18O": 18.08, "region": "Germany"}, {"age": 363.99, "d18O": 18.06, "region": "Germany"}, {"age": 363.54, "d18O": 18.21, "region": "Germany"}, {"age": 362.87, "d18O": 18.19, "region": "Germany"}, {"age": 362.65, "d18O": 18.08, "region": "Germany"}, {"age": 362.42, "d18O": 18.01, "region": "Germany"}, {"age": 362.87, "d18O": 18.12, "region": "Germany"}, {"age": 365.22, "d18O": 17.91, "region": "Germany"}, {"age": 363.77, "d18O": 17.79, "region": "Germany"}, {"age": 363.21, "d18O": 17.69, "region": "Germany"}, {"age": 366.67, "d18O": 17.37, "region": "Germany"}, {"age": 366.67, "d18O": 17.34, "region": "Germany"}, {"age": 366.11, "d18O": 17.1, "region": "Germany"}, {"age": 360.01, "d18O": 17.39, "region": "Germany"}, {"age": 359.47, "d18O": 17.87, "region": "Germany"}
    ]
  },
  "resolve": {"scale": {"x": "independent", "y": "independent"}},
  "layer": [
    {
      "data": {"name": "boundaries"},
      "mark": {"type": "rule", "color": "#7a7a7a", "strokeWidth": 1.2},
      "encoding": {
        "x": {"field": "age", "type": "quantitative", "scale": {"domain": [425, 355], "nice": false, "zero": false}, "axis": null}
      }
    },
    {
      "data": {"name": "samples"},
      "mark": {"type": "point", "shape": "diamond", "filled": true, "size": 78, "opacity": 1},
      "encoding": {
        "x": {"field": "age", "type": "quantitative", "scale": {"domain": [425, 355], "nice": false, "zero": false},
              "axis": {"orient": "bottom", "values": [355,356,357,358,359,360,361,362,363,364,365,366,367,368,369,370,371,372,373,374,375,376,377,378,379,380,381,382,383,384,385,386,387,388,389,390,391,392,393,394,395,396,397,398,399,400,401,402,403,404,405,406,407,408,409,410,411,412,413,414,415,416,417,418,419,420,421,422,423,424,425],
                       "labels": false, "domain": false, "title": null, "tickSize": -5, "tickWidth": 1.3}},
        "y": {"field": "d18O", "type": "quantitative", "scale": {"domain": [15, 22], "nice": false, "zero": false},
              "axis": {"orient": "right", "values": [15.5, 16.5, 17.5, 18.5, 19.5, 20.5, 21.5], "labels": false, "domain": false, "title": null, "tickSize": -5, "tickWidth": 1.3}},
        "color": {"field": "region", "type": "nominal",
                  "scale": {"domain": ["USA (Iowa)", "Australia", "France", "Czech Republic", "Germany"],
                            "range": ["#4c9e35", "#111111", "#c81f2b", "#d9822b", "#68afb0"]},
                  "legend": {"orient": "none", "legendX": 458, "legendY": 540, "columns": 3, "title": null,
                             "strokeColor": "#111", "fillColor": "white", "padding": 16,
                             "labelFontSize": 18, "labelColor": "#1a1a1a", "symbolType": "diamond", "symbolSize": 64,
                             "labelOffset": 16, "columnPadding": 38, "rowPadding": 6,
                             "encode": {"legend": {"update": {"strokeWidth": {"value": 2}}}}}}
      }
    },
    {
      "data": {"name": "smooth"},
      "transform": [{"filter": "datum.band == 'lower'"}],
      "mark": {"type": "line", "color": "#222", "strokeWidth": 0.9, "interpolate": "monotone"},
      "encoding": {
        "x": {"field": "age", "type": "quantitative", "scale": {"domain": [425, 355], "nice": false, "zero": false},
              "axis": {"orient": "top", "values": [355,356,357,358,359,360,361,362,363,364,365,366,367,368,369,370,371,372,373,374,375,376,377,378,379,380,381,382,383,384,385,386,387,388,389,390,391,392,393,394,395,396,397,398,399,400,401,402,403,404,405,406,407,408,409,410,411,412,413,414,415,416,417,418,419,420,421,422,423,424,425],
                       "labels": false, "domain": false, "title": null, "tickSize": -5, "tickWidth": 1.3}},
        "y": {"field": "d18O", "type": "quantitative", "scale": {"domain": [15, 22], "nice": false, "zero": false},
              "axis": {"orient": "left", "values": [15.5, 16.5, 17.5, 18.5, 19.5, 20.5, 21.5], "labels": false, "domain": false, "title": null, "tickSize": -5, "tickWidth": 1.3}}
      }
    },
    {
      "data": {"name": "smooth"},
      "transform": [{"filter": "datum.band == 'upper'"}],
      "mark": {"type": "line", "color": "#222", "strokeWidth": 0.9, "interpolate": "monotone"},
      "encoding": {
        "x": {"field": "age", "type": "quantitative", "scale": {"domain": [425, 355], "nice": false, "zero": false},
              "axis": {"orient": "top", "values": [355, 360, 365, 370, 375, 380, 385, 390, 395, 400, 405, 410, 415, 420, 425],
                       "labelExpr": "datum.value % 10 == 5 ? datum.label : ''", "tickSize": -10, "tickWidth": 1.5,
                       "domain": true, "domainWidth": 2, "domainCap": "square", "labelPadding": 26,
                       "title": "Age [Ma]", "titleFontSize": 25, "titlePadding": 22}},
        "y": {"field": "d18O", "type": "quantitative", "scale": {"domain": [15, 22], "nice": false, "zero": false},
              "axis": {"orient": "left", "values": [15, 16, 17, 18, 19, 20, 21], "tickSize": -10, "tickWidth": 1.5,
                       "domain": true, "domainWidth": 2, "domainCap": "square", "labelPadding": 25,
                       "title": "δ¹⁸O [‰ V-SMOW]", "titleFontSize": 31, "titleY": 351, "titlePadding": 20}}
      }
    },
    {
      "data": {"name": "smooth"},
      "transform": [{"filter": "datum.band == 'mean'"}],
      "mark": {"type": "line", "color": "#000", "strokeWidth": 3.6, "interpolate": "monotone"},
      "encoding": {
        "x": {"field": "age", "type": "quantitative", "scale": {"domain": [425, 355], "nice": false, "zero": false},
              "axis": {"orient": "bottom", "values": [355, 360, 365, 370, 375, 380, 385, 390, 395, 400, 405, 410, 415, 420, 425],
                       "labels": false, "tickSize": -10, "tickWidth": 1.5, "domain": true, "domainWidth": 2, "domainCap": "square", "title": null}},
        "y": {"field": "d18O", "type": "quantitative", "scale": {"domain": [15, 22], "nice": false, "zero": false},
              "axis": {"orient": "right", "values": [15, 16, 17, 18, 19, 20, 21], "tickSize": -10, "tickWidth": 1.5,
                       "domain": true, "domainWidth": 2, "domainCap": "square", "labelPadding": 20,
                       "title": "δ¹⁸O [‰ V-SMOW]", "titlePadding": 23}}
      }
    },
    {
      "data": {"name": "units"},
      "transform": [{"filter": "datum.rank == 'period'"}, {"calculate": "2", "as": "top"}, {"calculate": "0", "as": "bottom"}],
      "mark": {"type": "rect", "fill": "white", "stroke": "#111", "strokeWidth": 1.6},
      "encoding": {
        "x": {"field": "start", "type": "quantitative", "scale": {"domain": [425, 355], "nice": false, "zero": false}, "axis": null},
        "x2": {"field": "end"},
        "y": {"field": "top", "type": "quantitative", "scale": {"domain": [0, 2], "range": [713, 640], "nice": false, "zero": false}, "axis": null},
        "y2": {"field": "bottom"}
      }
    },
    {
      "data": {"name": "units"},
      "transform": [{"filter": "datum.rank == 'stage'"}, {"calculate": "2", "as": "top"}, {"calculate": "1", "as": "bottom"}],
      "mark": {"type": "rect", "fill": "white", "stroke": "#111", "strokeWidth": 1.6},
      "encoding": {
        "x": {"field": "start", "type": "quantitative", "scale": {"domain": [425, 355], "nice": false, "zero": false}, "axis": null},
        "x2": {"field": "end"},
        "y": {"field": "top", "type": "quantitative", "scale": {"domain": [0, 2], "range": [713, 640], "nice": false, "zero": false}, "axis": null},
        "y2": {"field": "bottom"}
      }
    },
    {
      "data": {"name": "units"},
      "transform": [{"filter": "datum.rank == 'series'"}, {"calculate": "1", "as": "top"}, {"calculate": "0", "as": "bottom"}],
      "mark": {"type": "rect", "fill": "white", "stroke": "#111", "strokeWidth": 1.6},
      "encoding": {
        "x": {"field": "start", "type": "quantitative", "scale": {"domain": [425, 355], "nice": false, "zero": false}, "axis": null},
        "x2": {"field": "end"},
        "y": {"field": "top", "type": "quantitative", "scale": {"domain": [0, 2], "range": [713, 640], "nice": false, "zero": false}, "axis": null},
        "y2": {"field": "bottom"}
      }
    },
    {
      "data": {"name": "breaks"},
      "transform": [{"calculate": "1.37", "as": "upperArm"}, {"calculate": "0.66", "as": "lowerArm"}],
      "mark": {"type": "rule", "color": "white", "strokeWidth": 4},
      "encoding": {
        "x": {"field": "edge", "type": "quantitative", "scale": {"domain": [425, 355], "nice": false, "zero": false}, "axis": null},
        "y": {"field": "upperArm", "type": "quantitative", "scale": {"domain": [0, 2], "range": [713, 640], "nice": false, "zero": false}, "axis": null},
        "y2": {"field": "lowerArm"}
      }
    },
    {
      "data": {"name": "breaks"},
      "transform": [{"calculate": "1.37", "as": "upperArm"}, {"calculate": "1.0", "as": "point"}],
      "mark": {"type": "rule", "color": "#111", "strokeWidth": 1.6},
      "encoding": {
        "x": {"field": "edge", "type": "quantitative", "scale": {"domain": [425, 355], "nice": false, "zero": false}, "axis": null},
        "x2": {"field": "tip"},
        "y": {"field": "upperArm", "type": "quantitative", "scale": {"domain": [0, 2], "range": [713, 640], "nice": false, "zero": false}, "axis": null},
        "y2": {"field": "point"}
      }
    },
    {
      "data": {"name": "breaks"},
      "transform": [{"calculate": "0.66", "as": "lowerArm"}, {"calculate": "1.0", "as": "point"}],
      "mark": {"type": "rule", "color": "#111", "strokeWidth": 1.6},
      "encoding": {
        "x": {"field": "tip", "type": "quantitative", "scale": {"domain": [425, 355], "nice": false, "zero": false}, "axis": null},
        "x2": {"field": "edge"},
        "y": {"field": "point", "type": "quantitative", "scale": {"domain": [0, 2], "range": [713, 640], "nice": false, "zero": false}, "axis": null},
        "y2": {"field": "lowerArm"}
      }
    },
    {
      "data": {"name": "units"},
      "transform": [{"filter": "datum.rank == 'stage'"}, {"calculate": "(datum.start + datum.end) / 2", "as": "mid"}, {"calculate": "1.5", "as": "level"}],
      "mark": {"type": "text", "fontSize": 16, "color": "#1a1a1a", "align": "center", "baseline": "middle"},
      "encoding": {
        "x": {"field": "mid", "type": "quantitative", "scale": {"domain": [425, 355], "nice": false, "zero": false}, "axis": null},
        "y": {"field": "level", "type": "quantitative", "scale": {"domain": [0, 2], "range": [713, 640], "nice": false, "zero": false}, "axis": null},
        "text": {"field": "name"}
      }
    },
    {
      "data": {"name": "units"},
      "transform": [{"filter": "datum.rank == 'series'"}, {"calculate": "(datum.start + datum.end) / 2", "as": "mid"}, {"calculate": "0.5", "as": "level"}],
      "mark": {"type": "text", "fontSize": 17, "color": "#1a1a1a", "align": "center", "baseline": "middle"},
      "encoding": {
        "x": {"field": "mid", "type": "quantitative", "scale": {"domain": [425, 355], "nice": false, "zero": false}, "axis": null},
        "y": {"field": "level", "type": "quantitative", "scale": {"domain": [0, 2], "range": [713, 640], "nice": false, "zero": false}, "axis": null},
        "text": {"field": "name"}
      }
    },
    {
      "data": {"name": "units"},
      "transform": [{"filter": "datum.rank == 'period'"}, {"calculate": "(datum.start + datum.end) / 2", "as": "mid"}, {"calculate": "1.0", "as": "level"}],
      "mark": {"type": "text", "fontSize": 17, "color": "#1a1a1a", "align": "center", "baseline": "middle"},
      "encoding": {
        "x": {"field": "mid", "type": "quantitative", "scale": {"domain": [425, 355], "nice": false, "zero": false}, "axis": null},
        "y": {"field": "level", "type": "quantitative", "scale": {"domain": [0, 2], "range": [713, 640], "nice": false, "zero": false}, "axis": null},
        "text": {"field": "name"}
      }
    }
  ]
}
